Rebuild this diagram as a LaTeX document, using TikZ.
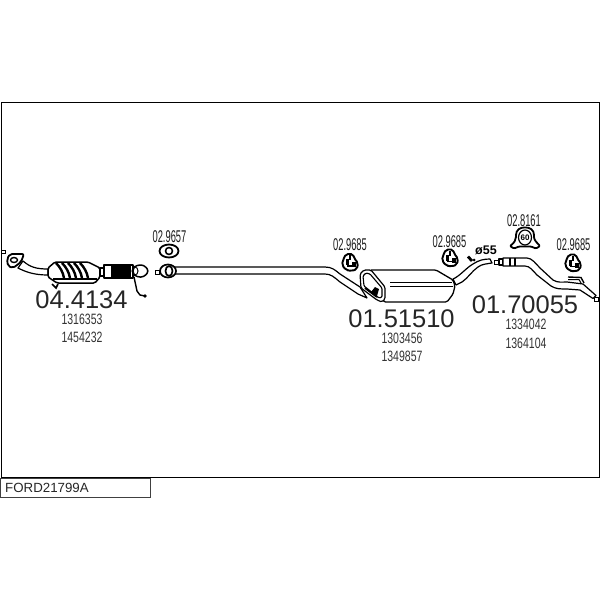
\documentclass[tikz,border=0pt]{standalone}
\usepackage{fontspec}
\setmainfont{Liberation Sans}
\tikzset{
 part/.style={draw=black,line width=1.2pt,fill=white,line join=round},
 bignum/.style={font=\fontsize{25.5}{26}\selectfont,inner sep=0pt,text=black!85},
 refnum/.style={font=\fontsize{15}{15}\selectfont,inner sep=0pt,xscale=.7,text=black!80},
 hangnum/.style={font=\fontsize{17}{17}\selectfont,inner sep=0pt,xscale=.55,text=black!90},
 marker/.style={draw=black,line width=1pt,fill=white},
 hanger/.pic={
  \draw[line width=1.9pt,fill=white,rounded corners=2pt] (-4,-8) -- (3,-8) -- (4,-4) -- (8,1) -- (7,7) -- (2,9) -- (-4,8) -- (-8,3) -- (-7,-2) -- cycle;
  \fill (-4.5,-3) rectangle (-1,3);
  \fill (1.5,0) rectangle (5.5,5);
  \draw[line width=1.2pt] (-3,4) -- (3,4) (0,-7) -- (0,-2);
 },
}
\begin{document}
\begin{tikzpicture}[x=1pt,y=-1pt]
\useasboundingbox (0,0) rectangle (600,600);
% frame
\draw[line width=1pt] (1,102) -- (599.5,102) -- (599.5,477) -- (1,477) -- cycle;
\draw[line width=1pt,draw=black!75] (.5,478.5) rectangle (150,497);
\node[anchor=west,inner sep=0pt,text=black!85,font=\fontsize{13.3}{14}\selectfont] (code) at (5,488) {FORD21799A};
% end markers
\draw[marker] (1.5,250) rectangle (5,253.5);
\draw[marker] (155,270) rectangle (159,274);
\draw[marker] (594,297) rectangle (598,301);
% front flange and pipe
\draw[part] (23,261) .. controls (30,267) and (36,269) .. (48,269) -- (48,275) .. controls (34,275) and (26,272) .. (18,268) -- cycle;
\draw[part,line width=1.8pt,rounded corners=2pt] (7,259) -- (10,254) -- (24,254) -- (21,262) -- (13,268) -- (8,266) -- cycle;
\draw[part,line width=1.4pt] (14,260) ellipse (3.5 and 2.5);
% catalyst
\draw[part,line width=1.5pt,rounded corners=1.5pt] (48,268) -- (55,262) -- (88,262) -- (100,268) -- (100,277) -- (95,283) -- (57,283) -- (48,277) -- cycle;
\foreach \x in {56,62,68,74,80}{
 \draw[line width=2.4pt] (\x,263) .. controls (\x+4,267) and (\x+7,272) .. (\x+8,278);
}
\draw[line width=2.4pt] (53,279) -- (97,279);
\draw[line width=1.6pt] (52,284) -- (56,288) -- (58,284);
% bellows
\draw[part] (100,268) rectangle (105,276);
\draw[part] (104,265) rectangle (133,278);
\fill (111,265) rectangle (131,278);
% sensor wire
\draw[line width=1.4pt] (134,277) -- (137,291) -- (140,295) -- (145,296);
\fill (145,296) circle (1.8);
% flange
\draw[part,line width=1.5pt,rounded corners=3pt] (133,268) -- (137,265) -- (144,265) -- (149,271) -- (144,277) -- (137,277) -- (133,274) -- cycle;
\draw[line width=1pt] (135,271) ellipse (3 and 4);
% front gasket & long pipe
\draw[part] (174,267) -- (325,267) .. controls (332,267) and (335,270) .. (340,274) -- (360,287) -- (367,298) -- (358,294) -- (340,282) .. controls (334,277) and (331,274) .. (325,274) -- (174,274) -- cycle;
\draw[part,line width=1.7pt] (168,271) ellipse (8 and 6.5);
\draw[part,line width=1.7pt] (169,271) ellipse (3.5 and 5);
% loose gasket
\draw[part,line width=1.8pt] (169,251) ellipse (9.5 and 6.5);
\draw[part,line width=1.6pt] (169,251) ellipse (3.5 and 3.5);
% muffler body
\draw[part,line width=1.3pt,rounded corners=1.5pt] (370,270) -- (436,270) -- (453,280) -- (455,286) -- (453,294) -- (447,302) -- (384,302) -- (380,295) -- cycle;
\draw[line width=1pt] (390,282) -- (452,282) (390,286) -- (453,286);
% muffler end cap
\draw[part,line width=1.2pt,rounded corners=1.5pt] (360,274) -- (364,270) -- (371,270) -- (385,287) -- (385,299) -- (382,302) -- (377,300) -- (361,288) -- cycle;
\draw[line width=1.1pt,fill=white,rounded corners=1pt] (363,276) -- (366,273) -- (370,274) -- (382,288) -- (382,297) -- (379,298) -- (364,286) -- cycle;
\draw[line width=1.8pt] (365,288) -- (377,297);
\fill (371,292) -- (375,287) -- (379,289) -- (377,296) -- cycle;
% middle outlet pipe
\draw[part] (453,279) .. controls (460,276) and (466,268) .. (473,264) .. controls (479,260) and (484,259) .. (490,259) -- (492,263) .. controls (486,264) and (482,264) .. (478,267) .. controls (472,271) and (468,278) .. (462,282) -- (456,285) -- cycle;
\draw[line width=2.8pt] (468,256.5) -- (472,261);
\fill (474,260) circle (1.5);
% rear pipe
\draw[marker] (494,260) rectangle (499,264.5);
\draw[part] (499,259) rectangle (503,265);
\draw[part] (503,258) -- (527,258) .. controls (532,258) and (536,264) .. (540,268) -- (553,280) .. controls (558,283) and (562,282) .. (567,282) -- (583,284) -- (596,295.5) -- (593,298.5) -- (580,290) -- (567,289) .. controls (560,289) and (556,289) .. (551,286) -- (537,275) .. controls (533,271) and (530,266) .. (525,266) -- (503,266) -- cycle;
\draw[line width=1.2pt] (510,257.5) -- (510,266) (515,258) -- (515,266);
\draw[line width=1.4pt] (568,277) -- (581,277.5) -- (584,283);
\draw[line width=1pt] (568,279.5) -- (579,279.5) -- (581,283);
% hangers
\pic at (350,262) {hanger};
\pic at (450,257.5) {hanger};
\pic at (573,262.5) {hanger};
% big hanger with 60
\draw[part,line width=1.8pt,rounded corners=1pt] (510,246) .. controls (514,243) and (516,240) .. (516,236) .. controls (516,230) and (520,227.5) .. (525,227.5) .. controls (530,227.5) and (534,230) .. (534,236) .. controls (534,240) and (537,243) .. (540,246) -- (536,248.5) -- (531,246.5) -- (519,246.5) -- (514,248.5) -- cycle;
\draw[part,line width=1.2pt] (525,237.5) ellipse (6.5 and 7.5);
\node[inner sep=0pt,font=\fontsize{8}{8}\bfseries\selectfont] (hanger60) at (525,237.5) {60};
% texts
\node[bignum] (cat) at (81.5,300) {04.4134};
\node[refnum] (cata) at (82,319.5) {1316353};
\node[refnum] (catb) at (82,337) {1454232};
\node[bignum] (muf) at (401.5,318.5) {01.51510};
\node[refnum] (mufa) at (402,338) {1303456};
\node[refnum] (mufb) at (402,356) {1349857};
\node[bignum] (rear) at (525,305) {01.70055};
\node[refnum] (reara) at (526,324.5) {1334042};
\node[refnum] (rearb) at (526,343) {1364104};
\node[hangnum] (g) at (169.5,237) {02.9657};
\node[hangnum] (ha) at (350,245) {02.9685};
\node[hangnum] (hb) at (449.5,242) {02.9685};
\node[hangnum] (hc) at (573.5,244.5) {02.9685};
\node[hangnum] (hd) at (524,221) {02.8161};
\node[inner sep=0pt,font=\fontsize{12.5}{13}\bfseries\selectfont] (dia) at (486,250) {ø55};
\end{tikzpicture}
\end{document}
